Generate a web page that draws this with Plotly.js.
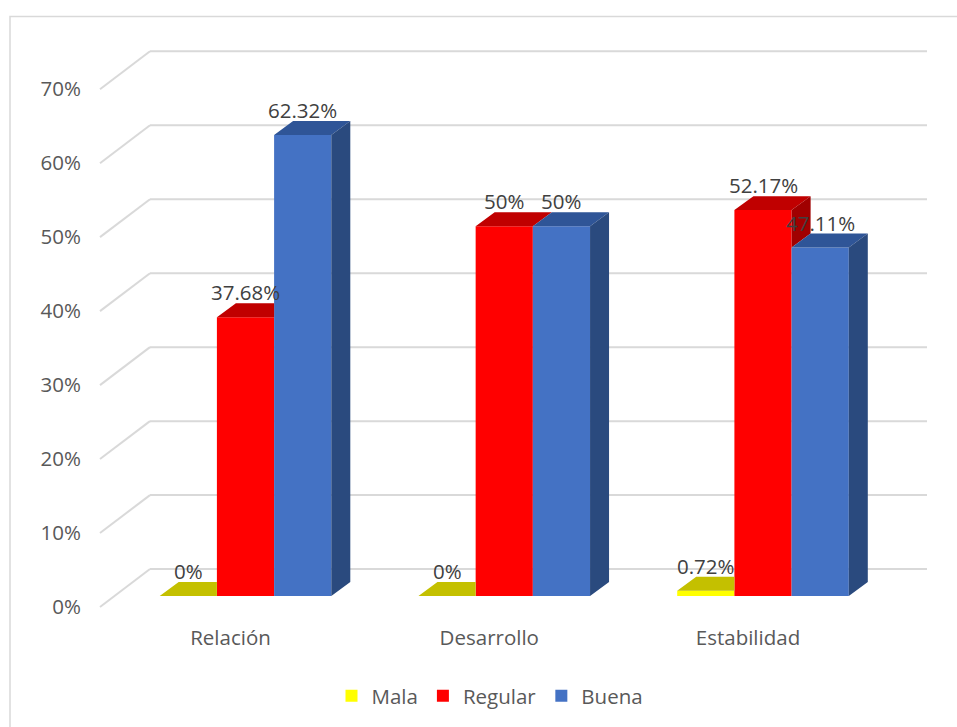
<!DOCTYPE html>
<html>
<head>
<meta charset="utf-8">
<script src="https://cdn.plot.ly/plotly-3.0.1.min.js"></script>
<style>html,body{margin:0;padding:0;background:#fff;}#chart{width:957px;height:727px;}</style>
</head>
<body>
<div id="chart"></div>
<script>
// ---- data ----
const categories = ['Relación', 'Desarrollo', 'Estabilidad'];
const seriesNames = ['Mala', 'Regular', 'Buena'];
const mala = [0, 0, 0.72];
const regular = [37.68, 50, 52.17];
const buena = [62.32, 50, 47.11];
const yTicks = [0, 10, 20, 30, 40, 50, 60, 70];

// ---- style ----
const frontColors = ['#FFFF00', '#FF0000', '#4472C4'];
const topColors = ['#C4C000', '#C00000', '#2F5597'];
const sideColors = ['#A3A000', '#A00000', '#2A4A7E'];
const FONT = 'Open Sans, Noto Sans, sans-serif';

// ---- geometry (pixels) ----
const W = 957, H = 727;
const PL = 100, PR = 927, PT = 40, PB = 610;
const PXU = 7.41;            // px per 1 %
const FRONT_ZERO = 608, BAR_ZERO = 597, BACK_ZERO = 570;
const G0 = 245.5, GSTEP = 258.75, BAR_PX = 57.2;
const DEPTH_DX = 19, DEPTH_DY = 14;
const LABEL_SHIFT = -15;

const barW = BAR_PX / GSTEP;
const bargap = 1 - 3 * barW;
const ddx = DEPTH_DX / GSTEP, ddy = DEPTH_DY / PXU;
const xStartFrac = (150 - PL) / (PR - PL);
const wallRise = (FRONT_ZERO - BACK_ZERO) / PXU;

const series = [mala, regular, buena];
const traces = [];

// front faces: bar traces
series.forEach((vals, k) => {
  traces.push({
    type: 'bar', name: seriesNames[k],
    x: categories.map((c, i) => i), y: vals,
    marker: {color: frontColors[k], line: {width: 0}},
    hoverinfo: 'skip', xaxis: 'x', yaxis: 'y'
  });
});

// 3D top / side faces computed from the data
series.forEach((vals, k) => {
  const tx = [], ty = [], sx = [], sy = [];
  vals.forEach((v, i) => {
    const xc = i + (k - 1) * barW;
    const x0 = xc - barW / 2, x1 = xc + barW / 2;
    const next = k < series.length - 1 ? series[k + 1][i] : null;
    if (next !== null && next > v) {
      tx.push(x0, x1, x1, x0 + ddx, x0, null);
      ty.push(v, v, v + ddy, v + ddy, v, null);
    } else {
      tx.push(x0, x1, x1 + ddx, x0 + ddx, x0, null);
      ty.push(v, v, v + ddy, v + ddy, v, null);
    }
    const base = next !== null ? next : 0;
    if (v > base) {
      sx.push(x1, x1, x1 + ddx, x1 + ddx, x1, null);
      sy.push(base, v, v + ddy, base + ddy, base, null);
    }
  });
  traces.push({type: 'scatter', mode: 'lines', x: tx, y: ty, fill: 'toself',
    fillcolor: topColors[k], line: {width: 0, color: topColors[k]},
    showlegend: false, hoverinfo: 'skip', xaxis: 'x', yaxis: 'y'});
  if (sx.length) traces.push({type: 'scatter', mode: 'lines', x: sx, y: sy, fill: 'toself',
    fillcolor: sideColors[k], line: {width: 0, color: sideColors[k]},
    showlegend: false, hoverinfo: 'skip', xaxis: 'x', yaxis: 'y'});
});

// data labels
const annotations = [];
series.forEach((vals, k) => {
  vals.forEach((v, i) => {
    annotations.push({
      x: i + (k - 1) * barW, y: v, xref: 'x', yref: 'y',
      text: String(v) + '%', showarrow: false, yshift: 25,
      xanchor: 'center', yanchor: 'middle',
      font: {family: FONT, size: 20.5, color: '#404040'}
    });
  });
});

// side-wall diagonals, back-wall gridlines & chart border
const shapes = [];
yTicks.forEach(t => {
  shapes.push({
    type: 'line', xref: 'paper', yref: 'y2', layer: 'below',
    x0: 0, x1: xStartFrac, y0: t, y1: t + wallRise,
    line: {color: '#D9D9D9', width: 2}
  });
  shapes.push({
    type: 'line', xref: 'paper', yref: 'y2', layer: 'below',
    x0: xStartFrac, x1: 1, y0: t + wallRise, y1: t + wallRise,
    line: {color: '#D9D9D9', width: 2}
  });
});
shapes.push({
  type: 'rect', xref: 'paper', yref: 'paper', layer: 'below',
  x0: (10 - PL) / (PR - PL), x1: (965 - PL) / (PR - PL),
  y0: (PB - 735) / (PB - PT), y1: (PB - 16.5) / (PB - PT),
  line: {color: '#D9D9D9', width: 1.5}, fillcolor: 'rgba(0,0,0,0)'
});

const layout = {
  width: W, height: H,
  margin: {l: PL, r: W - PR, t: PT, b: H - PB, pad: 0},
  paper_bgcolor: '#FFFFFF', plot_bgcolor: 'rgba(0,0,0,0)',
  font: {family: FONT, size: 20.5, color: '#595959'},
  barmode: 'group', bargap: bargap, bargroupgap: 0,
  showlegend: true,
  legend: {orientation: 'h', x: (490 - PL) / (PR - PL), xanchor: 'center',
    y: (PB - 696) / (PB - PT), yanchor: 'middle',
    font: {family: FONT, size: 20.5, color: '#595959'}, traceorder: 'normal'},
  xaxis: {
    domain: [xStartFrac, 1],
    range: [(150 - G0) / GSTEP, (PR - G0) / GSTEP],
    tickvals: categories.map((c, i) => i + LABEL_SHIFT / GSTEP),
    ticktext: categories,
    showgrid: false, zeroline: false, showline: false, ticks: '',
    ticklabelstandoff: 14,
    tickfont: {family: FONT, size: 20.5, color: '#595959'}
  },
  yaxis: {
    range: [(BAR_ZERO - PB) / PXU, (BAR_ZERO - PT) / PXU],
    visible: false, showgrid: false, zeroline: false
  },
  yaxis2: {
    overlaying: 'y', anchor: 'free', position: 0, side: 'left',
    range: [(FRONT_ZERO - PB) / PXU, (FRONT_ZERO - PT) / PXU],
    tickvals: yTicks, ticktext: yTicks.map(t => t + '%'),
    showgrid: false, zeroline: false, showline: false, ticks: '',
    ticklabelstandoff: 19,
    tickfont: {family: FONT, size: 20.5, color: '#595959'}
  },
  shapes: shapes,
  annotations: annotations
};

Plotly.newPlot('chart', traces, layout, {displayModeBar: false, staticPlot: true});
</script>
</body>
</html>
